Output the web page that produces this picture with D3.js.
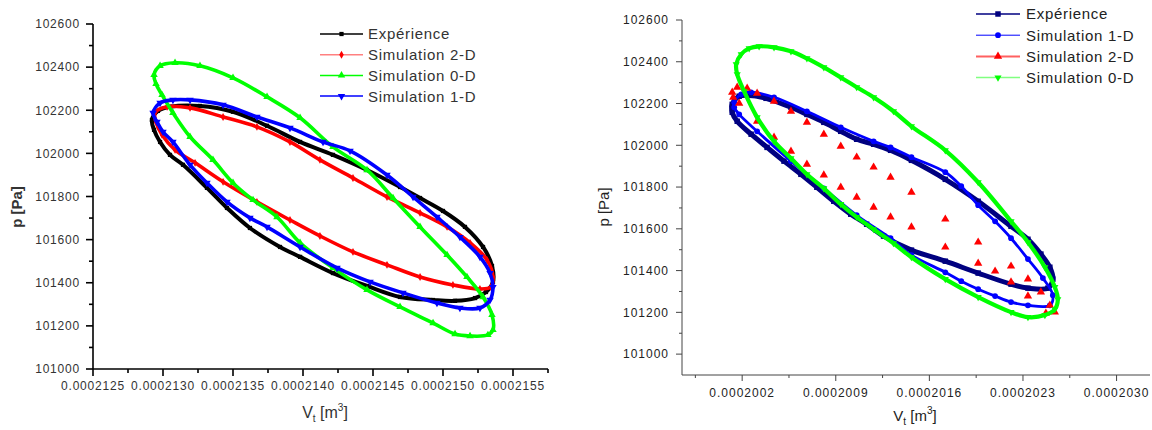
<!DOCTYPE html>
<html><head><meta charset="utf-8">
<script src="https://cdn.jsdelivr.net/npm/d3@7"></script>
<style>body{margin:0;background:#fff;} text{font-family:"Liberation Sans",Arial,sans-serif;}</style>
</head><body><svg id="c" width="1152" height="430"></svg>
<script>
// ---------------- DATA (left chart) : [V_t (m3), p (Pa)] ----------------
const leftExp = [[0.000212921,102155],[0.000212964,102197],[0.000213050,102216],[0.000213264,102220],[0.000213500,102193],[0.000213743,102128],[0.000213979,102053],[0.000214214,101993],[0.000214457,101923],[0.000214693,101844],[0.000214836,101793],[0.000215000,101733],[0.000215157,101659],[0.000215286,101566],[0.000215350,101478],[0.000215357,101404],[0.000215307,101357],[0.000215229,101329],[0.000215086,101316],[0.000214929,101320],[0.000214693,101334],[0.000214457,101385],[0.000214214,101445],[0.000213979,101520],[0.000213836,101566],[0.000213621,101654],[0.000213457,101747],[0.000213314,101840],[0.000213143,101947],[0.000213050,101993],[0.000212979,102053],[0.000212936,102109]];
const leftSim2D = [[0.000212943,102188],[0.000213029,102216],[0.000213193,102211],[0.000213429,102169],[0.000213671,102123],[0.000213907,102053],[0.000214121,101970],[0.000214357,101886],[0.000214600,101798],[0.000214836,101724],[0.000215029,101659],[0.000215193,101585],[0.000215314,101506],[0.000215357,101427],[0.000215343,101380],[0.000215264,101371],[0.000215071,101390],[0.000214836,101427],[0.000214600,101483],[0.000214357,101543],[0.000214121,101617],[0.000213907,101691],[0.000213671,101775],[0.000213429,101868],[0.000213229,101956],[0.000213086,102016],[0.000212993,102086],[0.000212950,102146]];
const leftSim0D = [[0.000212936,102364],[0.000212979,102406],[0.000213086,102420],[0.000213264,102406],[0.000213500,102350],[0.000213743,102262],[0.000213979,102165],[0.000214214,102030],[0.000214457,101923],[0.000214643,101793],[0.000214836,101659],[0.000215029,101529],[0.000215171,101427],[0.000215286,101334],[0.000215350,101251],[0.000215357,101181],[0.000215321,101158],[0.000215193,101153],[0.000215086,101162],[0.000214929,101213],[0.000214693,101288],[0.000214457,101367],[0.000214214,101469],[0.000213979,101585],[0.000213814,101705],[0.000213643,101784],[0.000213500,101863],[0.000213357,101970],[0.000213193,102077],[0.000213071,102188],[0.000212993,102271],[0.000212950,102322]];
const leftSim1D = [[0.000212929,102188],[0.000212979,102234],[0.000213071,102248],[0.000213193,102248],[0.000213429,102225],[0.000213671,102169],[0.000213907,102118],[0.000214143,102053],[0.000214336,102012],[0.000214600,101900],[0.000214786,101798],[0.000214957,101705],[0.000215121,101612],[0.000215264,101520],[0.000215336,101445],[0.000215357,101380],[0.000215336,101320],[0.000215264,101283],[0.000215121,101283],[0.000214957,101306],[0.000214714,101353],[0.000214479,101404],[0.000214243,101469],[0.000213979,101566],[0.000213743,101659],[0.000213621,101701],[0.000213457,101775],[0.000213314,101863],[0.000213193,101947],[0.000213071,102053],[0.000213000,102100],[0.000212957,102146]];

// ---------------- DATA (right chart) ----------------
const rightExp = [[0.0002001255,102196],[0.0002001777,102235],[0.0002002670,102239],[0.0002003787,102225],[0.0002005649,102182],[0.0002006841,102148],[0.0002008107,102110],[0.0002009373,102067],[0.0002010564,102029],[0.0002011830,102005],[0.0002013096,101976],[0.0002014660,101928],[0.0002017192,101837],[0.0002019649,101732],[0.0002022107,101612],[0.0002023373,101550],[0.0002024341,101479],[0.0002025011,101416],[0.0002025235,101359],[0.0002024862,101316],[0.0002023373,101316],[0.0002022107,101335],[0.0002019649,101388],[0.0002017192,101445],[0.0002014660,101498],[0.0002012575,101565],[0.0002011309,101622],[0.0002010117,101670],[0.0002008851,101732],[0.0002007585,101799],[0.0002006394,101861],[0.0002005128,101924],[0.0002003862,101990],[0.0002002670,102053],[0.0002001628,102115],[0.0002001255,102158]];
const rightSim1D = [[0.0002001404,102206],[0.0002001926,102244],[0.0002002670,102254],[0.0002004383,102230],[0.0002006841,102163],[0.0002009373,102086],[0.0002011830,102019],[0.0002013096,101990],[0.0002014660,101943],[0.0002017192,101871],[0.0002018383,101804],[0.0002019649,101713],[0.0002020915,101636],[0.0002022107,101555],[0.0002023373,101455],[0.0002024490,101364],[0.0002025235,101282],[0.0002025011,101234],[0.0002023373,101234],[0.0002022107,101249],[0.0002020915,101278],[0.0002019649,101311],[0.0002018383,101349],[0.0002017192,101392],[0.0002014660,101474],[0.0002013096,101555],[0.0002010564,101665],[0.0002008107,101794],[0.0002005649,101924],[0.0002003117,102067],[0.0002001777,102148],[0.0002001404,102182]];
const rightSim2D = [[0.0002001255,102254],[0.0002001628,102278],[0.0002002372,102273],[0.0002003117,102249],[0.0002004383,102211],[0.0002005649,102163],[0.0002006841,102110],[0.0002008107,102053],[0.0002009373,101995],[0.0002010564,101943],[0.0002011830,101895],[0.0002013096,101847],[0.0002014660,101775],[0.0002017192,101646],[0.0002019649,101536],[0.0002022107,101421],[0.0002023373,101359],[0.0002024341,101297],[0.0002025011,101234],[0.0002025384,101201],[0.0002024713,101196],[0.0002023373,101278],[0.0002022107,101345],[0.0002020915,101397],[0.0002019649,101435],[0.0002017192,101512],[0.0002014660,101608],[0.0002013096,101656],[0.0002011830,101703],[0.0002010564,101751],[0.0002009373,101799],[0.0002008107,101857],[0.0002006841,101909],[0.0002005649,101971],[0.0002004383,102038],[0.0002003117,102115],[0.0002001777,102201],[0.0002001330,102230]];
const rightSim0D = [[0.0002001553,102388],[0.0002001926,102436],[0.0002002521,102464],[0.0002003266,102474],[0.0002004383,102469],[0.0002005649,102450],[0.0002006841,102416],[0.0002008107,102373],[0.0002009373,102325],[0.0002010564,102278],[0.0002011830,102230],[0.0002013319,102163],[0.0002014660,102091],[0.0002017192,101976],[0.0002019649,101823],[0.0002022107,101636],[0.0002023373,101536],[0.0002024639,101416],[0.0002025384,101321],[0.0002025607,101263],[0.0002025384,101215],[0.0002024639,101187],[0.0002023373,101177],[0.0002022107,101201],[0.0002019649,101273],[0.0002017192,101359],[0.0002014660,101464],[0.0002013319,101531],[0.0002011830,101598],[0.0002010564,101656],[0.0002009373,101718],[0.0002008107,101794],[0.0002006841,101861],[0.0002005649,101938],[0.0002004383,102019],[0.0002003117,102134],[0.0002002149,102258],[0.0002001628,102340]];

// ticks
const leftXTicks = [0.0002125,0.0002130,0.0002135,0.0002140,0.0002145,0.0002150,0.0002155];
const leftXLabels = ["0.0002125","0.0002130","0.0002135","0.0002140","0.0002145","0.0002150","0.0002155"];
const leftXMinor = [0.00021275,0.00021325,0.00021375,0.00021425,0.00021475,0.00021525,0.00021575];
const yTicks = [101000,101200,101400,101600,101800,102000,102200,102400,102600];
const yMinor = [101100,101300,101500,101700,101900,102100,102300,102500];
const rightXTicks = [0.0002002,0.0002009,0.0002016,0.0002023,0.0002030];
const rightXLabels = ["0.0002002","0.0002009","0.0002016","0.0002023","0.0002030"];
const rightXMinor = [0.00019985,0.00020055,0.00020125,0.00020195,0.00020265];

const leftLegend = ["Expérience","Simulation 2-D","Simulation 0-D","Simulation 1-D"];
const rightLegend = ["Expérience","Simulation 1-D","Simulation 2-D","Simulation 0-D"];

// ---------------- DRAW ----------------
const svg = d3.select("#c");

function sym(type, size, rot){
  return {path: d3.symbol().type(type).size(size)(), rot: rot||0};
}

function drawChart(cfg){
  const g = svg.append("g");
  const x = d3.scaleLinear().domain(cfg.xDomain).range(cfg.xRange);
  const y = d3.scaleLinear().domain(cfg.yDomain).range(cfg.yRange);
  const ax = g.append("g").attr("stroke", cfg.axisColor).attr("stroke-width", cfg.axisWidth).attr("fill","none");
  ax.append("line").attr("x1", x.range()[0]).attr("x2", x.range()[0]).attr("y1", y.range()[0]).attr("y2", y.range()[1]);
  ax.append("line").attr("x1", x.range()[0]).attr("x2", x.range()[1]).attr("y1", y.range()[0]).attr("y2", y.range()[0]);
  cfg.yTicks.forEach(v=>{ ax.append("line").attr("x1", x.range()[0]-cfg.majLen).attr("x2", x.range()[0]).attr("y1", y(v)).attr("y2", y(v)); });
  cfg.yMinor.forEach(v=>{ ax.append("line").attr("x1", x.range()[0]-cfg.minLen).attr("x2", x.range()[0]).attr("y1", y(v)).attr("y2", y(v)); });
  cfg.xTicks.forEach(v=>{ ax.append("line").attr("x1", x(v)).attr("x2", x(v)).attr("y1", y.range()[0]).attr("y2", y.range()[0]+cfg.majLen); });
  cfg.xMinor.forEach(v=>{ ax.append("line").attr("x1", x(v)).attr("x2", x(v)).attr("y1", y.range()[0]).attr("y2", y.range()[0]+cfg.minLen); });
  const tl = g.append("g").attr("fill", cfg.textColor).style("font-size","12px").style("letter-spacing", cfg.ls);
  cfg.yTicks.forEach(v=>{ tl.append("text").attr("x", cfg.yLabelX).attr("y", y(v)).attr("dy","0.36em").attr("text-anchor","end").text(String(v)); });
  cfg.xTicks.forEach((v,i)=>{ tl.append("text").attr("x", x(v)).attr("y", cfg.xLabelY).attr("dy","0.36em").attr("text-anchor","middle").text(cfg.xLabels[i]); });
  g.append("text").attr("transform", `translate(${cfg.yTitle[0]},${cfg.yTitle[1]}) rotate(-90)`)
    .attr("text-anchor","middle").attr("fill", cfg.textColor).style("font-size","15px").style("font-weight", cfg.yBold?"bold":"normal").text("p [Pa]");
  const xt = g.append("text").attr("x", cfg.xTitle[0]).attr("y", cfg.xTitle[1]).attr("text-anchor","middle").attr("fill", cfg.textColor).style("font-size", cfg.xTitleSize+"px");
  xt.append("tspan").text("V");
  xt.append("tspan").attr("dy", 4).style("font-size","10px").text("t");
  xt.append("tspan").attr("dy", -4).text(" [m");
  xt.append("tspan").attr("dy", -7).style("font-size","10px").text("3");
  xt.append("tspan").attr("dy", 7).text("]");
  const line = d3.line().x(d=>x(d[0])).y(d=>y(d[1])).curve(d3.curveCatmullRomClosed.alpha(0.5));
  cfg.series.forEach(s=>{
    const sg = g.append("g");
    if (s.width>0) sg.append("path").attr("d", line(s.data)).attr("fill","none").attr("stroke", s.lineColor||s.color).attr("stroke-width", s.width).attr("stroke-linejoin","round");
    sg.selectAll("path.m").data(s.data).join("path").attr("class","m")
      .attr("d", s.sym.path).attr("fill", s.color)
      .attr("transform", d=>`translate(${x(d[0])},${y(d[1])}) rotate(${s.sym.rot})`);
  });
  const lg = g.append("g");
  cfg.series.slice().sort((a,b)=>a.li-b.li).forEach((s,i)=>{
    const yy = cfg.legY[0] + i*cfg.legStep;
    lg.append("line").attr("x1", cfg.legX[0]).attr("x2", cfg.legX[1]).attr("y1", yy).attr("y2", yy).attr("stroke", s.legLine).attr("stroke-width", s.legW);
    lg.append("path").attr("d", s.sym.path).attr("fill", s.color).attr("transform", `translate(${(cfg.legX[0]+cfg.legX[1])/2},${yy}) rotate(${s.sym.rot})`);
    lg.append("text").attr("x", cfg.legX[2]).attr("y", yy).attr("dy","0.36em").attr("fill", cfg.textColor).style("font-size","15px").style("letter-spacing","0.7px").text(cfg.legend[s.li]);
  });
}

drawChart({
  xDomain:[0.0002125,0.00021575], xRange:[93,548],
  yDomain:[101000,102600], yRange:[369,24],
  axisColor:"#000", axisWidth:1.6, majLen:7, minLen:4, textColor:"#333", ls:"0.8px",
  yTicks:yTicks, yMinor:yMinor, xTicks:leftXTicks, xMinor:leftXMinor, xLabels:leftXLabels,
  yLabelX:80, xLabelY:386, yTitle:[22,207], yBold:true, xTitle:[325,418], xTitleSize:16,
  legend:leftLegend, legX:[320,363,368], legY:[34], legStep:20.7,
  series:[
    {data:leftExp, color:"#000", legLine:"#000", legW:1.5, width:4, sym:sym(d3.symbolSquare,18), li:0},
    {data:leftSim2D, color:"#ff0000", legLine:"#ff8080", legW:1.5, width:3.6, sym:sym(d3.symbolDiamond,18), li:1},
    {data:leftSim0D, color:"#00ff00", legLine:"#00ff00", legW:1.5, width:3.6, sym:sym(d3.symbolTriangle,24), li:2},
    {data:leftSim1D, color:"#0000ff", legLine:"#0000ff", legW:1.5, width:3.6, sym:sym(d3.symbolTriangle,24,180), li:3}
  ]
});

drawChart({
  xDomain:[0.00019975,0.00020325], xRange:[682,1150],
  yDomain:[100900,102600], yRange:[375,20],
  axisColor:"#444", axisWidth:1, majLen:6, minLen:3, textColor:"#222", ls:"1px",
  yTicks:yTicks, yMinor:yMinor, xTicks:rightXTicks, xMinor:rightXMinor, xLabels:rightXLabels,
  yLabelX:669, xLabelY:393, yTitle:[609,207], yBold:false, xTitle:[915,421], xTitleSize:15,
  legend:rightLegend, legX:[976,1020,1026], legY:[14], legStep:21.2,
  series:[
    {data:rightExp, color:"#000080", legLine:"#000080", legW:1.5, width:5, sym:sym(d3.symbolSquare,30), li:0},
    {data:rightSim1D, color:"#0000ff", legLine:"#0000ff", legW:1, width:2.8, sym:sym(d3.symbolCircle,26), li:1},
    {data:rightSim2D, color:"#ff0000", legLine:"#ff6060", legW:2, width:0, sym:sym(d3.symbolTriangle,30), li:2},
    {data:rightSim0D, color:"#00ff00", legLine:"#80ff80", legW:1.5, width:4.2, sym:sym(d3.symbolTriangle,22,180), li:3}
  ]
});
</script></body></html>
